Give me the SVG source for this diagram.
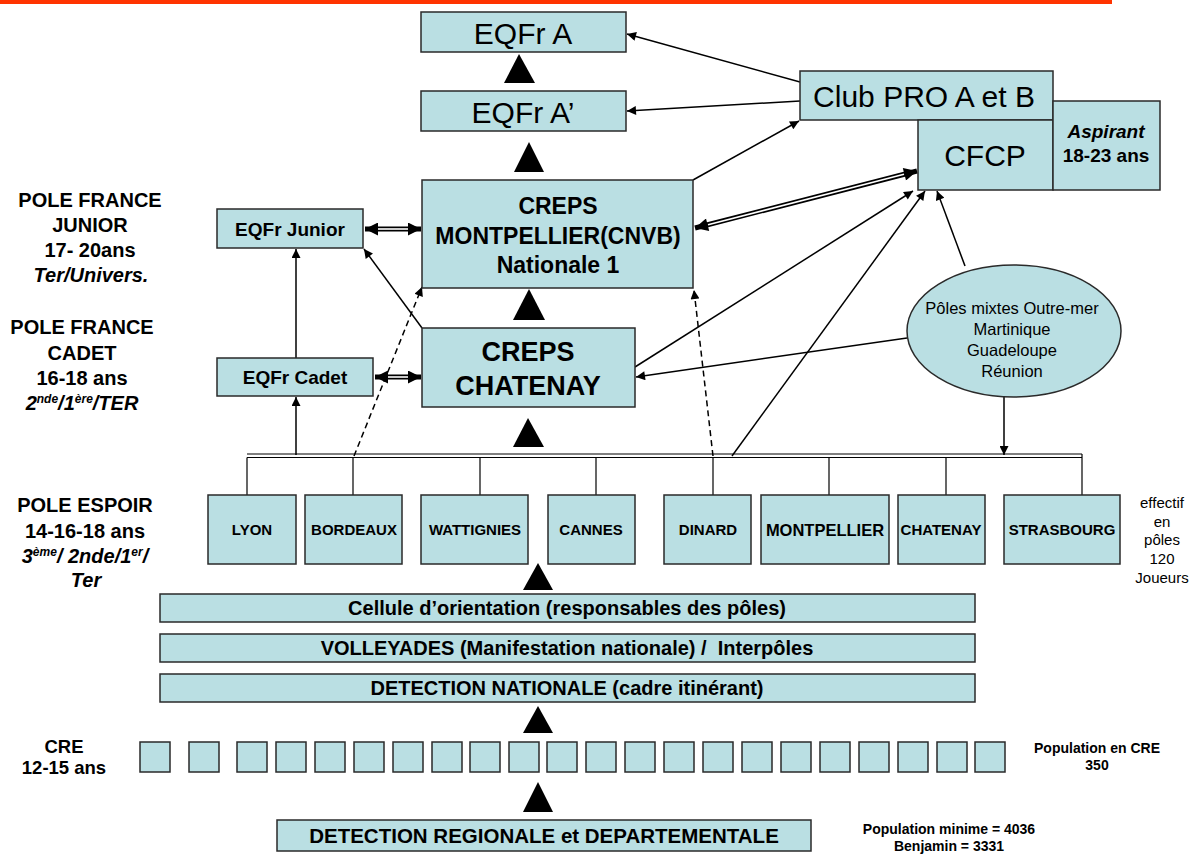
<svg xmlns="http://www.w3.org/2000/svg" width="1199" height="855" viewBox="0 0 1199 855">
<defs>
<style>
.box{fill:#BADFE3;stroke:#2a2a2a;stroke-width:1.5}
.t{font-family:"Liberation Sans",Arial,sans-serif;fill:#000;text-anchor:middle}
.b{font-weight:bold}
.i{font-style:italic}
.ln{stroke:#000;stroke-width:1.5;fill:none}
.dash{stroke-dasharray:6 4}
.arr{marker-end:url(#ah)}
.dout{stroke:#000;stroke-width:5;fill:none;marker-start:url(#ahb);marker-end:url(#ahb)}
.din{stroke:#fff;stroke-width:1.6;fill:none}
.bus{stroke:#000;stroke-width:1.2;fill:none}
.tri{fill:#000}
</style>
<marker id="ah" viewBox="0 0 10 10" refX="10" refY="5" markerWidth="11" markerHeight="9" markerUnits="userSpaceOnUse" orient="auto-start-reverse"><path d="M0,0 L10,5 L0,10 z" fill="#000"/></marker>
<marker id="ahb" viewBox="0 0 10 10" refX="10" refY="5" markerWidth="15" markerHeight="13" markerUnits="userSpaceOnUse" orient="auto-start-reverse"><path d="M0,0 L10,5 L0,10 z" fill="#000"/></marker>
</defs>
<rect x="0" y="0" width="1112" height="4" fill="#FF3300"/>

<g id="labels">
<text class="t b" font-size="20" x="90" y="207">POLE FRANCE</text>
<text class="t b" font-size="20" x="90" y="232">JUNIOR</text>
<text class="t b" font-size="20" x="90" y="257">17- 20ans</text>
<text class="t b i" font-size="20" x="91" y="282">Ter/Univers.</text>
<text class="t b" font-size="20" x="82" y="334">POLE FRANCE</text>
<text class="t b" font-size="20" x="82" y="360">CADET</text>
<text class="t b" font-size="20" x="82" y="385">16-18 ans</text>
<text class="t b i" font-size="20" x="82" y="410">2<tspan font-size="12" dy="-7">nde</tspan><tspan dy="7">/1</tspan><tspan font-size="12" dy="-7">ère</tspan><tspan dy="7">/TER</tspan></text>
<text class="t b" font-size="20" x="85" y="512">POLE ESPOIR</text>
<text class="t b" font-size="20" x="85" y="538">14-16-18 ans</text>
<text class="t b i" font-size="20" x="85" y="563">3<tspan font-size="12" dy="-7">ème</tspan><tspan dy="7">/ 2nde/1</tspan><tspan font-size="12" dy="-7">er</tspan><tspan dy="7">/</tspan></text>
<text class="t b i" font-size="20" x="86" y="587">Ter</text>
<text class="t b" font-size="18.5" x="64" y="753">CRE</text>
<text class="t b" font-size="18.5" x="64" y="774">12-15 ans</text>
<text class="t" font-size="15" x="1162" y="508">effectif</text>
<text class="t" font-size="15" x="1162" y="527">en</text>
<text class="t" font-size="15" x="1162" y="545">pôles</text>
<text class="t" font-size="15" x="1162" y="564">120</text>
<text class="t" font-size="15" x="1162" y="583">Joueurs</text>
<text class="t b" font-size="14" x="1097" y="753">Population en CRE</text>
<text class="t b" font-size="14" x="1097" y="770">350</text>
<text class="t b" font-size="14" x="949" y="834">Population minime = 4036</text>
<text class="t b" font-size="14" x="949" y="851">Benjamin = 3331</text>
</g>

<g id="connectors">
<line class="ln arr" x1="800" y1="82" x2="627" y2="34"/>
<line class="ln arr" x1="800" y1="101" x2="627" y2="111"/>
<line class="ln arr" x1="693" y1="180" x2="799" y2="121"/>
<line class="ln arr" x1="422" y1="328" x2="364" y2="249"/>
<line class="ln arr" x1="296" y1="455" x2="296" y2="397"/>
<line class="ln arr" x1="296" y1="358" x2="296" y2="249"/>
<line class="ln arr dash" x1="354" y1="456" x2="422" y2="287"/>
<line class="ln arr dash" x1="713" y1="456" x2="694" y2="290"/>
<line class="ln arr" x1="635" y1="367" x2="913" y2="191"/>
<line class="ln arr" x1="732" y1="456" x2="925" y2="191"/>
<line class="ln arr" x1="965" y1="266" x2="937" y2="191"/>
<line class="ln arr" x1="907" y1="338" x2="636" y2="377"/>
<line class="ln arr" x1="1004" y1="397" x2="1004" y2="455"/>
<line class="dout" x1="365" y1="229" x2="421" y2="229"/>
<line class="din" x1="378" y1="229" x2="408" y2="229"/>
<line class="dout" x1="375" y1="377" x2="421" y2="377"/>
<line class="din" x1="388" y1="377" x2="408" y2="377"/>
<line class="dout" x1="695" y1="228" x2="917" y2="171"/>
<line class="din" x1="708" y1="224.7" x2="904" y2="174.3"/>
<line class="bus" x1="247" y1="454" x2="1082" y2="454"/>
<line class="bus" x1="247" y1="457.5" x2="1082" y2="457.5"/>
<line class="bus" x1="247" y1="457.5" x2="247" y2="495"/>
<line class="bus" x1="353" y1="457.5" x2="353" y2="495"/>
<line class="bus" x1="480" y1="457.5" x2="480" y2="495"/>
<line class="bus" x1="596" y1="457.5" x2="596" y2="495"/>
<line class="bus" x1="713" y1="457.5" x2="713" y2="495"/>
<line class="bus" x1="829" y1="457.5" x2="829" y2="495"/>
<line class="bus" x1="946" y1="457.5" x2="946" y2="495"/>
<line class="bus" x1="1082" y1="454" x2="1082" y2="495"/>
<polygon class="tri" points="519,54 504,83 535,83"/>
<polygon class="tri" points="529,142 514,172 544,172"/>
<polygon class="tri" points="529,289 513,320 545,320"/>
<polygon class="tri" points="528,418 513,447 544,447"/>
<polygon class="tri" points="538,563 523,590 553,590"/>
<polygon class="tri" points="538,706 523,733 553,733"/>
<polygon class="tri" points="538,782 523,812 553,812"/>
</g>

<g id="eqfr-a"><rect class="box" x="421" y="12" width="205" height="40"/><text class="t" font-size="30" x="523" y="44">EQFr A</text></g>
<g id="eqfr-a2"><rect class="box" x="421" y="91" width="205" height="40"/><text class="t" font-size="30" x="523" y="123">EQFr A’</text></g>
<g id="club-pro"><rect class="box" x="800" y="71" width="253" height="49"/><text class="t" font-size="30" x="924" y="107">Club PRO A et B</text></g>
<g id="cfcp"><rect class="box" x="918" y="120" width="135" height="70"/><text class="t" font-size="30" x="985" y="166">CFCP</text></g>
<g id="aspirant"><rect class="box" x="1053" y="101" width="107" height="89"/><text class="t b i" font-size="19" x="1106" y="138">Aspirant</text><text class="t b" font-size="19" x="1106" y="162">18-23 ans</text></g>
<g id="creps-montpellier"><rect class="box" x="422" y="180" width="271" height="108"/><text class="t b" font-size="23" x="558" y="214">CREPS</text><text class="t b" font-size="23" x="558" y="244">MONTPELLIER(CNVB)</text><text class="t b" font-size="23" x="558" y="273">Nationale 1</text></g>
<g id="creps-chatenay"><rect class="box" x="422" y="328" width="213" height="79"/><text class="t b" font-size="27" x="528" y="361">CREPS</text><text class="t b" font-size="27" x="528" y="395">CHATENAY</text></g>
<g id="eqfr-junior"><rect class="box" x="217" y="209" width="146" height="39"/><text class="t b" font-size="19" x="290" y="236">EQFr Junior</text></g>
<g id="eqfr-cadet"><rect class="box" x="217" y="358" width="156" height="38"/><text class="t b" font-size="19" x="295" y="384">EQFr Cadet</text></g>
<g id="outre-mer"><ellipse class="box" cx="1014" cy="331" rx="107" ry="66"/><text class="t" font-size="16.5" x="1012" y="314">Pôles mixtes Outre-mer</text><text class="t" font-size="16.5" x="1012" y="335">Martinique</text><text class="t" font-size="16.5" x="1012" y="356">Guadeloupe</text><text class="t" font-size="16.5" x="1012" y="377">Réunion</text></g>

<g id="lyon"><rect class="box" x="208" y="495" width="88" height="69"/><text class="t b" font-size="15" x="252" y="535">LYON</text></g>
<g id="bordeaux"><rect class="box" x="305" y="495" width="97" height="69"/><text class="t b" font-size="15" x="354" y="535">BORDEAUX</text></g>
<g id="wattignies"><rect class="box" x="421" y="495" width="107" height="69"/><text class="t b" font-size="15" x="475" y="535">WATTIGNIES</text></g>
<g id="cannes"><rect class="box" x="548" y="495" width="87" height="69"/><text class="t b" font-size="15" x="591" y="535">CANNES</text></g>
<g id="dinard"><rect class="box" x="664" y="495" width="87" height="69"/><text class="t b" font-size="15" x="708" y="535">DINARD</text></g>
<g id="montpellier"><rect class="box" x="761" y="495" width="128" height="69"/><text class="t b" font-size="16.5" x="825" y="536">MONTPELLIER</text></g>
<g id="chatenay"><rect class="box" x="898" y="495" width="87" height="69"/><text class="t b" font-size="15" x="941" y="535">CHATENAY</text></g>
<g id="strasbourg"><rect class="box" x="1004" y="495" width="116" height="69"/><text class="t b" font-size="15" x="1062" y="535">STRASBOURG</text></g>

<g id="cellule"><rect class="box" x="160" y="594" width="815" height="28"/><text class="t b" font-size="20" x="567" y="615">Cellule d’orientation (responsables des pôles)</text></g>
<g id="volleyades"><rect class="box" x="160" y="634" width="815" height="28"/><text class="t b" font-size="20" x="567" y="655" xml:space="preserve">VOLLEYADES (Manifestation nationale) /  Interpôles</text></g>
<g id="detection-nationale"><rect class="box" x="160" y="674" width="815" height="28"/><text class="t b" font-size="20" x="567" y="695">DETECTION NATIONALE (cadre itinérant)</text></g>

<g id="cre">
<rect class="box" x="140" y="742" width="30" height="30"/>
<rect class="box" x="189" y="742" width="30" height="30"/>
<rect class="box" x="237" y="742" width="30" height="30"/>
<rect class="box" x="276" y="742" width="30" height="30"/>
<rect class="box" x="315" y="742" width="30" height="30"/>
<rect class="box" x="354" y="742" width="30" height="30"/>
<rect class="box" x="393" y="742" width="30" height="30"/>
<rect class="box" x="432" y="742" width="30" height="30"/>
<rect class="box" x="470" y="742" width="30" height="30"/>
<rect class="box" x="509" y="742" width="30" height="30"/>
<rect class="box" x="547" y="742" width="30" height="30"/>
<rect class="box" x="586" y="742" width="30" height="30"/>
<rect class="box" x="625" y="742" width="30" height="30"/>
<rect class="box" x="664" y="742" width="30" height="30"/>
<rect class="box" x="703" y="742" width="30" height="30"/>
<rect class="box" x="742" y="742" width="30" height="30"/>
<rect class="box" x="781" y="742" width="30" height="30"/>
<rect class="box" x="820" y="742" width="30" height="30"/>
<rect class="box" x="859" y="742" width="30" height="30"/>
<rect class="box" x="898" y="742" width="30" height="30"/>
<rect class="box" x="937" y="742" width="30" height="30"/>
<rect class="box" x="975" y="742" width="30" height="30"/>
</g>
<g id="detection-regionale"><rect class="box" x="277" y="820" width="534" height="31"/><text class="t b" font-size="20.5" x="544" y="843">DETECTION REGIONALE et DEPARTEMENTALE</text></g>
</svg>
